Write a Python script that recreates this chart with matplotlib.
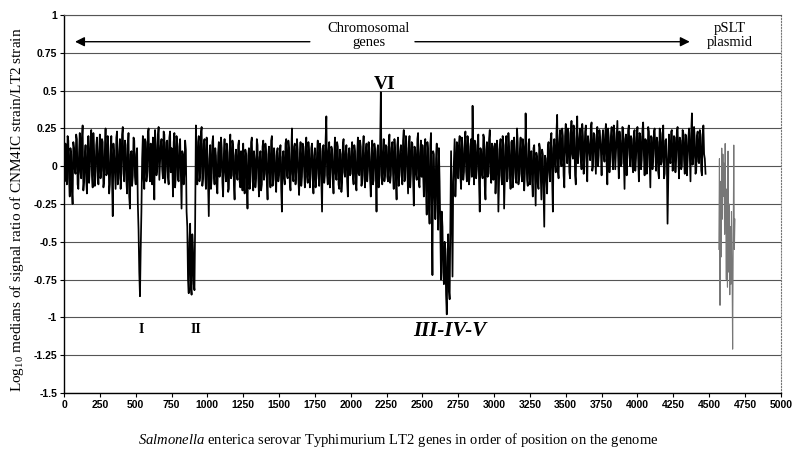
import matplotlib
matplotlib.use('Agg')
import matplotlib.pyplot as plt
import numpy as np

plt.rcParams['font.family'] = ['Liberation Serif', 'DejaVu Serif']
plt.rcParams['mathtext.fontset'] = 'custom'
plt.rcParams['mathtext.rm'] = 'Liberation Serif'
plt.rcParams['mathtext.it'] = 'Liberation Serif:italic'
plt.rcParams['mathtext.bf'] = 'Liberation Serif:bold'

# log10 ratio of chromosomal genes at genes 0, 10, 20, ...
chrom_vals = [
    0.05, 0.15, -0.12, 0.17, -0.20, 0.08, -0.25, 0.12, -0.05, 0.18, -0.15, 0.22, -0.08, 0.27, -0.10, 0.14, -0.18, 0.20, -0.02, 0.24, -0.14, 0.10, -0.06, 0.19, -0.12,
    0.21, -0.03, 0.16, -0.10, 0.25, -0.05, 0.12, -0.12, 0.20, -0.33, 0.07, -0.15, 0.23, -0.08, 0.18, -0.02, 0.26, -0.10, 0.14, -0.18, 0.22, -0.28, 0.10, -0.06, 0.17,
    -0.12, 0.12, -0.42, -0.86, -0.30, 0.20, -0.15, 0.16, -0.05, 0.25, -0.10, 0.08, 0.19, -0.22, 0.14, -0.02, 0.26, 0.03, 0.18, -0.08, 0.21, -0.03, 0.17, -0.12, 0.23,
    0.12, -0.20, 0.22, -0.06, 0.15, -0.10, 0.18, -0.28, 0.08, -0.05, 0.11, -0.40, -0.84, -0.38, -0.85, -0.55, -0.82, 0.27, -0.12, 0.20, -0.05, 0.26, -0.08, 0.18, -0.15,
    0.10, -0.33, 0.14, -0.08, 0.20, -0.12, 0.07, -0.18, 0.16, -0.04, 0.12, -0.20, 0.18, -0.10, 0.09, -0.15, 0.21, -0.06, 0.13, -0.22, 0.11, -0.09, 0.17, -0.14, 0.06,
    0.15, -0.18, 0.08, -0.28, 0.12, -0.10, 0.19, -0.16, 0.05, -0.08, 0.14, -0.20, 0.10, -0.12, 0.17, -0.05, 0.09, -0.22, 0.13, -0.14, 0.20, -0.09, 0.07, -0.17, 0.12,
    -0.06, 0.14, -0.30, 0.10, -0.12, 0.18, -0.08, 0.12, -0.16, 0.25, -0.10, 0.15, -0.04, 0.11, -0.19, 0.16, -0.07, 0.13, -0.14, 0.19, -0.11, 0.09, -0.05, 0.15, -0.18,
    0.12, -0.08, 0.17, -0.13, 0.10, -0.30, 0.14, -0.06, 0.33, -0.12, 0.16, -0.04, 0.11, -0.18, 0.19, -0.09, 0.13, -0.15, 0.08, -0.10, 0.18, -0.07, 0.14, -0.20, 0.12,
    -0.05, 0.16, -0.12, 0.10, -0.16, 0.19, -0.06, 0.13, -0.10, 0.20, -0.14, 0.15, -0.03, 0.12, -0.20, 0.17, -0.09, 0.11, -0.30, 0.14, -0.08, 0.49, -0.12, 0.18, -0.05,
    0.13, -0.10, 0.21, -0.06, 0.16, -0.15, 0.10, -0.22, 0.19, -0.04, 0.14, -0.12, 0.24, -0.08, 0.12, -0.18, 0.20, -0.05, 0.15, -0.26, 0.11, -0.09, 0.22, -0.14, 0.17,
    0.14, -0.20, 0.18, -0.32, 0.10, -0.38, 0.22, -0.72, 0.08, -0.35, 0.15, -0.42, -0.10, -0.75, -0.40, -0.78, -0.55, -0.98, -0.45, -0.88, 0.10, -0.73, 0.05, -0.20, 0.16,
    -0.08, 0.20, -0.15, 0.12, -0.04, 0.23, -0.10, 0.15, -0.06, 0.18, 0.40, -0.12, 0.14, -0.02, 0.21, -0.30, 0.10, -0.08, 0.19, -0.22, 0.16, -0.05, 0.24, -0.11, 0.13,
    0.08, -0.18, 0.17, -0.30, 0.12, -0.06, 0.20, -0.28, 0.14, -0.10, 0.22, -0.04, 0.16, -0.14, 0.19, -0.08, 0.25, -0.12, 0.11, -0.05, 0.18, -0.16, 0.35, -0.09, 0.15,
    -0.12, 0.10, -0.20, 0.14, -0.26, 0.06, -0.15, 0.12, -0.22, 0.08, -0.40, 0.05, -0.18, 0.16, -0.10, 0.22, -0.30, 0.18, -0.04, 0.34, -0.08, 0.24, 0.00, 0.20, -0.14,
    0.28, 0.02, 0.22, -0.08, 0.30, 0.05, 0.18, -0.12, 0.33, 0.08, 0.25, -0.02, 0.20, 0.06, 0.27, -0.10, 0.15, 0.04, 0.29, 0.00, 0.21, -0.05, 0.26, 0.07, 0.18,
    -0.06, 0.24, 0.03, 0.28, -0.12, 0.19, 0.06, 0.26, -0.02, 0.22, 0.09, 0.30, -0.08, 0.17, 0.02, 0.25, -0.15, 0.21, 0.07, 0.27, 0.00, 0.18, -0.04, 0.24, 0.05,
    0.26, -0.10, 0.20, 0.04, 0.29, -0.06, 0.17, 0.01, 0.23, -0.14, 0.19, 0.06, 0.25, -0.03, 0.16, -0.08, 0.22, 0.03, 0.27, -0.05, 0.18, -0.38, 0.21, 0.02, 0.24,
    -0.02, 0.19, 0.05, 0.26, -0.08, 0.17, 0.00, 0.22, -0.05, 0.20, 0.04, 0.25, -0.10, 0.35, 0.06, 0.18, -0.03, 0.23, 0.02, 0.21, -0.06, 0.27, 0.05,
]
# readings in between, at genes 5, 15, 25, ...
chrom_vals_mid = [
    -0.10, 0.03, 0.20, -0.08, 0.12, -0.15, 0.16, -0.02, 0.21, -0.12, 0.09, -0.04, 0.18, -0.16, 0.06, -0.09, 0.13, -0.11, 0.17, -0.06, 0.22, -0.13, 0.14, -0.03, 0.10,
    -0.08, 0.18, -0.14, 0.11, -0.06, 0.20, -0.18, 0.07, -0.09, 0.15, -0.04, 0.19, -0.12, 0.10, -0.15, 0.21, -0.05, 0.17, -0.09, 0.12, -0.20, 0.08, -0.13, 0.19, -0.07,
    0.08, -0.25, -0.70, -0.55, 0.05, -0.08, 0.18, -0.10, 0.22, -0.03, 0.15, -0.12, 0.05, 0.24, -0.06, 0.20, -0.09, 0.14, -0.02, 0.23, -0.11, 0.16, -0.07, 0.19, -0.04,
    0.05, 0.16, -0.14, 0.20, -0.09, 0.13, -0.06, 0.10, -0.12, 0.17, -0.30, -0.75, -0.50, -0.80, -0.45, -0.78, -0.35, -0.05, 0.16, -0.10, 0.22, -0.13, 0.15, -0.06, 0.19,
    -0.10, 0.05, -0.15, 0.16, -0.05, 0.12, -0.13, 0.09, -0.07, 0.19, -0.11, 0.08, -0.04, 0.15, -0.17, 0.11, -0.08, 0.17, -0.12, 0.07, -0.05, 0.14, -0.10, 0.10, -0.16,
    -0.05, 0.11, -0.12, 0.07, -0.15, 0.16, -0.04, 0.10, -0.14, 0.18, -0.07, 0.06, -0.16, 0.13, -0.09, 0.15, -0.11, 0.08, -0.04, 0.17, -0.13, 0.12, -0.08, 0.09, -0.10,
    0.09, -0.15, 0.06, -0.08, 0.15, -0.06, 0.17, -0.11, 0.08, -0.05, 0.13, -0.12, 0.18, -0.09, 0.06, -0.13, 0.15, -0.03, 0.10, -0.07, 0.16, -0.14, 0.12, -0.08, 0.07,
    -0.14, 0.09, -0.05, 0.15, -0.09, 0.12, -0.11, 0.18, -0.06, 0.10, -0.14, 0.13, -0.08, 0.07, -0.05, 0.16, -0.12, 0.11, -0.17, 0.14, -0.04, 0.10, -0.10, 0.08, -0.06,
    0.10, -0.07, 0.14, -0.11, 0.08, -0.05, 0.17, -0.13, 0.11, -0.06, 0.09, -0.10, 0.16, -0.08, 0.06, -0.12, 0.15, -0.05, 0.10, -0.14, 0.12, -0.06, 0.08, -0.10, 0.14,
    -0.07, 0.15, -0.11, 0.12, -0.05, 0.18, -0.09, 0.14, -0.13, 0.10, -0.06, 0.17, -0.10, 0.20, -0.04, 0.12, -0.14, 0.16, -0.08, 0.13, -0.05, 0.18, -0.11, 0.09, -0.07,
    -0.05, 0.12, -0.15, 0.16, -0.25, 0.14, -0.30, 0.10, -0.20, 0.05, -0.28, 0.12, -0.45, -0.30, -0.70, -0.50, -0.85, -0.60, -0.82, -0.40, -0.30, -0.10, 0.18, -0.06, 0.12,
    0.14, -0.06, 0.19, -0.09, 0.16, -0.03, 0.20, -0.12, 0.13, -0.07, 0.10, 0.17, -0.08, 0.15, -0.10, 0.12, -0.05, 0.21, -0.13, 0.11, -0.07, 0.18, -0.04, 0.15, -0.09,
    0.15, -0.05, 0.11, -0.09, 0.18, -0.12, 0.14, -0.06, 0.20, -0.08, 0.12, -0.15, 0.17, -0.04, 0.10, -0.11, 0.16, -0.07, 0.19, -0.10, 0.13, -0.05, 0.09, -0.13, 0.18,
    0.08, -0.10, 0.12, -0.07, 0.09, -0.12, 0.15, -0.05, 0.11, -0.15, 0.07, -0.09, 0.13, -0.04, 0.18, -0.08, 0.12, 0.02, 0.22, -0.03, 0.16, 0.05, 0.25, -0.06, 0.20,
    0.10, 0.25, -0.04, 0.21, 0.08, 0.27, -0.06, 0.24, 0.02, 0.19, 0.06, 0.28, -0.05, 0.23, 0.01, 0.20, 0.09, 0.26, -0.03, 0.22, 0.07, 0.18, 0.00, 0.24, 0.10,
    0.18, 0.08, 0.21, 0.02, 0.25, -0.04, 0.20, 0.05, 0.27, -0.02, 0.19, 0.07, 0.23, 0.00, 0.26, 0.04, 0.18, -0.06, 0.24, 0.08, 0.20, 0.01, 0.22, -0.03, 0.19,
    0.05, 0.22, -0.02, 0.24, 0.07, 0.18, -0.05, 0.26, 0.03, 0.20, -0.02, 0.23, 0.08, 0.19, -0.04, 0.25, 0.01, 0.21, -0.08, 0.17, 0.05, -0.10, 0.06, 0.23, -0.03,
    0.20, -0.04, 0.23, 0.06, 0.19, -0.02, 0.24, 0.04, 0.21, -0.06, 0.18, 0.07, 0.22, 0.01, 0.26, -0.05, 0.20, 0.03, 0.24, -0.03, 0.19, 0.08, -0.05,
]
chrom_y = np.column_stack([chrom_vals, chrom_vals_mid]).ravel()
chrom_genes = np.arange(len(chrom_y)) * 5

# pSLT plasmid genes (every 4 genes)
plasmid_genes = np.arange(4568, 4681, 4)
plasmid_vals = [
    -0.55, 0.05, -0.92, -0.10, -0.60, 0.12, -0.35, 0.08, -0.20, 0.02,
    -0.45, 0.15, -0.30, -0.75, -0.15, -0.80, 0.10, -0.70, -0.25, -0.85,
    -0.40, -0.78, -0.30, -0.65, -1.21, -0.50, 0.14, -0.55, -0.35,
]

y_ticks = [1, 0.75, 0.5, 0.25, 0, -0.25, -0.5, -0.75, -1, -1.25, -1.5]
y_labels = ['1', '0.75', '0.5', '0.25', '0', '-0.25', '-0.5', '-0.75', '-1', '-1.25', '-1.5']
x_ticks = list(range(0, 5001, 250))

fig = plt.figure(figsize=(8, 4.58), dpi=100)
ax = fig.add_axes([0.08, 0.142, 0.896, 0.825])

ax.plot(chrom_genes, chrom_y, color='black', lw=1.25)
ax.plot(plasmid_genes, plasmid_vals, color='#777777', lw=0.8)

ax.set_xlim(0, 5000)
ax.set_ylim(-1.5, 1)
ax.set_yticks(y_ticks)
ax.set_yticklabels(y_labels)
ax.set_xticks(x_ticks)
ax.set_xticklabels([str(t) for t in x_ticks])
for lab in ax.get_xticklabels() + ax.get_yticklabels():
    lab.set_family('Liberation Sans')
    lab.set_fontsize(7.5)
    lab.set_fontweight('bold')
ax.tick_params(length=3, width=0.8, pad=2)
ax.yaxis.grid(True, color='#555555', lw=0.8)
ax.set_axisbelow(True)

ax.spines['top'].set_color('#555555')
ax.spines['top'].set_linewidth(0.8)
ax.spines['right'].set_color('#777777')
ax.spines['right'].set_linestyle(':')
ax.spines['left'].set_linewidth(1.0)
ax.spines['bottom'].set_linewidth(1.0)

# region labels
ax.text(2127, 0.865, 'Chromosomal\ngenes', ha='center', va='center', fontsize=10.5, linespacing=1.15)
ax.text(4644, 0.865, 'pSLT\nplasmid', ha='center', va='center', fontsize=10.5, linespacing=1.15)
arrow = dict(arrowstyle='-|>', color='black', lw=1.0, mutation_scale=14, shrinkA=0, shrinkB=0)
ax.annotate('', xy=(77, 0.824), xytext=(1715, 0.824), arrowprops=arrow)
ax.annotate('', xy=(4365, 0.824), xytext=(2448, 0.824), arrowprops=arrow)

ax.text(2238, 0.54, 'VI', ha='center', va='center', fontsize=14, fontweight='bold')
ax.text(537, -1.08, 'I', ha='center', va='center', fontsize=10, fontweight='bold')
ax.text(920, -1.08, 'II', ha='center', va='center', fontsize=10, fontweight='bold')
ax.text(2692, -1.09, 'III-IV-V', ha='center', va='center', fontsize=15, fontweight='bold', fontstyle='italic')

fig.text(17 / 800, 1 - 210 / 458, 'Log$_{10}$ medians of signal ratio of CNM4IC strain/LT2 strain',
         rotation=90, ha='center', va='center', fontsize=11)
fig.text(138 / 800, 1 - 440 / 458,
         '$\\mathit{Salmonella}$ enterica serovar Typhimurium LT2 genes in order of position on the genome',
         ha='left', va='center', fontsize=10.5)

fig.savefig('out.png', dpi=100)
